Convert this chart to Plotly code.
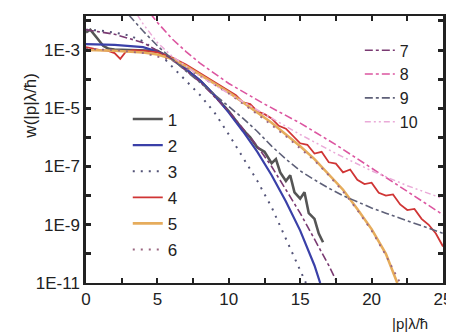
import plotly.graph_objects as go

# ---- data (w on a log axis) ----
x1 = [0, 0.3, 0.8, 1.2, 1.6, 2, 3, 4, 5, 6, 7, 8, 9, 10, 11, 11.5, 12, 12.5, 13, 13.3, 13.6, 14, 14.3, 14.6, 15, 15.3, 15.6, 16, 16.3, 16.6]
w1 = [4.0e-3, 5.0e-3, 2.5e-3, 1.4e-3, 1.1e-3, 1.05e-3, 1.0e-3, 1.0e-3, 9.5e-4, 5.0e-4, 2.2e-4, 8.9e-5, 2.8e-5, 7.9e-6, 1.8e-6, 1.0e-6, 4.5e-7, 3.2e-7, 1.3e-7, 1.8e-7, 6.3e-8, 3.2e-8, 5.0e-8, 1.3e-8, 7.9e-9, 1.3e-8, 2.5e-9, 1.6e-9, 5.0e-10, 2.5e-10]

x2 = [0, 2, 4, 5, 6, 7, 8, 9, 10, 11, 12, 13, 14, 15, 16, 16.4]
w2 = [1.6e-3, 1.5e-3, 1.26e-3, 8.9e-4, 5.0e-4, 2.2e-4, 8.9e-5, 2.8e-5, 7.1e-6, 1.6e-6, 3.2e-7, 5.0e-8, 6.3e-9, 6.3e-10, 4.0e-11, 1.0e-11]

x3 = [0, 1, 2, 3, 4, 5, 6, 7, 8, 9, 10, 11, 12, 13, 14, 15, 15.4]
w3 = [5.0e-3, 4.7e-3, 4.0e-3, 3.2e-3, 2.0e-3, 8.9e-4, 2.8e-4, 8.9e-5, 2.8e-5, 7.1e-6, 1.26e-6, 2.0e-7, 3.2e-8, 4.0e-9, 3.2e-10, 2.5e-11, 1.0e-11]

x4 = [0, 0.5, 1, 1.5, 2, 2.4, 2.8, 3.3, 4, 5, 6, 7, 8, 9, 10, 10.5, 11, 11.5, 12, 12.5, 13, 13.5, 14, 14.5, 15, 15.5, 16, 16.5, 17, 17.5, 18, 18.5, 19, 19.5, 20, 20.5, 21, 21.5, 22, 22.5, 23, 23.5, 24, 24.5, 25]
w4 = [1.26e-3, 1.12e-3, 1.0e-3, 9.5e-4, 7.9e-4, 5.0e-4, 8.9e-4, 1.0e-3, 9.5e-4, 8.3e-4, 5.6e-4, 3.2e-4, 1.6e-4, 7.9e-5, 4.0e-5, 2.8e-5, 1.6e-5, 1.4e-5, 7.9e-6, 6.3e-6, 4.5e-6, 2.5e-6, 2.0e-6, 1.1e-6, 6.3e-7, 5.6e-7, 2.8e-7, 3.2e-7, 1.4e-7, 1.26e-7, 6.3e-8, 7.9e-8, 3.5e-8, 2.5e-8, 2.8e-8, 1.26e-8, 1.0e-8, 1.1e-8, 5.0e-9, 3.2e-9, 3.5e-9, 1.6e-9, 1.0e-9, 5.0e-10, 1.8e-10]

x5 = [0, 2, 4, 5, 6, 7, 8, 9, 10, 11, 12, 13, 14, 15, 16, 17, 18, 19, 20, 21, 21.8]
w5 = [1.0e-3, 9.5e-4, 8.3e-4, 7.1e-4, 5.0e-4, 2.8e-4, 1.4e-4, 7.1e-5, 3.5e-5, 1.6e-5, 7.1e-6, 3.2e-6, 1.26e-6, 5.0e-7, 1.8e-7, 5.6e-8, 1.6e-8, 3.5e-9, 7.1e-10, 1.0e-10, 1.0e-11]

x6 = [0, 2, 4, 6, 8, 10, 12, 14, 16, 17, 18, 19, 20, 21, 22]
w6 = [1.1e-3, 1.0e-3, 7.9e-4, 4.5e-4, 1.26e-4, 3.2e-5, 6.3e-6, 1.1e-6, 1.6e-7, 5.0e-8, 1.4e-8, 3.2e-9, 6.3e-10, 8.9e-11, 1.0e-11]

x7 = [0, 2, 4, 6, 8, 10, 12, 13, 14, 15, 16, 17, 17.6]
w7 = [5.0e-3, 3.5e-3, 1.8e-3, 5.0e-4, 7.9e-5, 7.9e-6, 5.0e-7, 1.0e-7, 1.6e-8, 2.5e-9, 3.2e-10, 4.0e-11, 1.0e-11]

x8 = [4.5, 5, 6, 7, 8, 9, 10, 12.5, 15, 17.5, 20, 22.5, 25]
w8 = [1.8e-2, 8.9e-3, 2.5e-3, 8.9e-4, 3.5e-4, 1.6e-4, 7.1e-5, 1.4e-5, 3.1e-6, 5.6e-7, 8.9e-8, 1.4e-8, 2.2e-9]

x9 = [3, 4, 5, 6, 7, 8, 9, 10, 11, 12, 13, 14, 15, 16, 17, 18, 19, 20, 21, 22, 23, 24, 25]
w9 = [1.6e-2, 4.5e-3, 1.4e-3, 5.0e-4, 1.9e-4, 7.6e-5, 3.0e-5, 1.2e-5, 4.5e-6, 1.6e-6, 5.0e-7, 1.8e-7, 7.1e-8, 3.5e-8, 1.8e-8, 1.0e-8, 6.0e-9, 3.8e-9, 2.5e-9, 1.7e-9, 1.1e-9, 7.6e-10, 5.1e-10]

x10 = [3.6, 4, 5, 6, 8, 10, 12.5, 15, 17.5, 20, 22.5, 25]
w10 = [1.6e-2, 7.9e-3, 1.8e-3, 6.3e-4, 1.26e-4, 3.2e-5, 6.3e-6, 1.26e-6, 2.8e-7, 7.1e-8, 2.2e-8, 7.9e-9]

names = ["1", "2", "3", "4", "5", "6", "7", "8", "9", "10"]
xs = [x1, x2, x3, x4, x5, x6, x7, x8, x9, x10]
ws = [w1, w2, w3, w4, w5, w6, w7, w8, w9, w10]

x_tickvals = [0, 2.5, 5, 7.5, 10, 12.5, 15, 17.5, 20, 22.5, 25]
x_ticktext = ["0", "", "5", "", "10", "", "15", "", "20", "", "25"]
y_tickvals = [1e-11, 1e-10, 1e-9, 1e-8, 1e-7, 1e-6, 1e-5, 1e-4, 1e-3, 1e-2]
y_ticktext = ["1E-11", "", "1E-9", "", "1E-7", "", "1E-5", "", "1E-3", ""]

styles = [
    dict(color="#555555", width=2.6, dash="solid"),
    dict(color="#3a40a8", width=2.2, dash="solid"),
    dict(color="#545478", width=2.0, dash="2px,6px"),
    dict(color="#d03535", width=1.8, dash="solid"),
    dict(color="#e6ac5c", width=2.6, dash="solid"),
    dict(color="#9a6680", width=1.8, dash="2px,6px"),
    dict(color="#7a3a72", width=1.6, dash="8px,3px,3px,3px"),
    dict(color="#dc55a0", width=1.6, dash="8px,3px,3px,3px"),
    dict(color="#5e6078", width=1.6, dash="8px,3px,3px,3px"),
    dict(color="#eaaad8", width=1.5, dash="6px,3px,2px,3px,2px,3px"),
]

fig = go.Figure()
for i in range(10):
    fig.add_trace(go.Scatter(
        x=xs[i], y=ws[i], mode="lines", name=names[i],
        line=styles[i], legendgroup="g" + names[i],
        legend="legend" if i < 6 else "legend2",
    ))

# the page body adds an 8px offset, so the figure is 8px smaller and margins compensate
font_family = "Liberation Sans, Arial, sans-serif"
fig.update_layout(
    width=446, height=325,
    margin=dict(l=78, r=11, t=8, b=50, autoexpand=False),
    paper_bgcolor="white", plot_bgcolor="white",
    font=dict(family=font_family, size=17, color="#222222"),
    legend=dict(x=0.117, y=0.68, xanchor="left", yanchor="top",
                bgcolor="rgba(0,0,0,0)", font=dict(size=17), itemwidth=30,
                tracegroupgap=1),
    legend2=dict(x=0.767, y=0.935, xanchor="left", yanchor="top",
                 bgcolor="rgba(0,0,0,0)", font=dict(size=16), itemwidth=30,
                 tracegroupgap=0),
    xaxis=dict(range=[0, 25], tickvals=x_tickvals, ticktext=x_ticktext,
               showline=True, linewidth=2, linecolor="#222222", mirror="ticks",
               ticks="inside", ticklen=5, tickwidth=2, tickcolor="#222222",
               showgrid=False, zeroline=False, automargin=False),
    yaxis=dict(type="log", range=[-11, -1.83], tickvals=y_tickvals, ticktext=y_ticktext,
               showline=True, linewidth=2.5, linecolor="#222222", mirror="ticks",
               ticks="inside", ticklen=5, tickwidth=2.5, tickcolor="#222222",
               showgrid=False, zeroline=False, automargin=False),
    annotations=[
        dict(text="w(|p|λ/ħ)", xref="paper", yref="paper", x=-0.155, y=0.663,
             xanchor="center", yanchor="middle",
             textangle=-90, showarrow=False, font=dict(size=17)),
        dict(text="|p|λ/ħ", xref="paper", yref="paper", x=0.908, y=-0.15,
             xanchor="center", yanchor="middle",
             showarrow=False, font=dict(size=15)),
    ],
)

fig.write_html("out.html")
